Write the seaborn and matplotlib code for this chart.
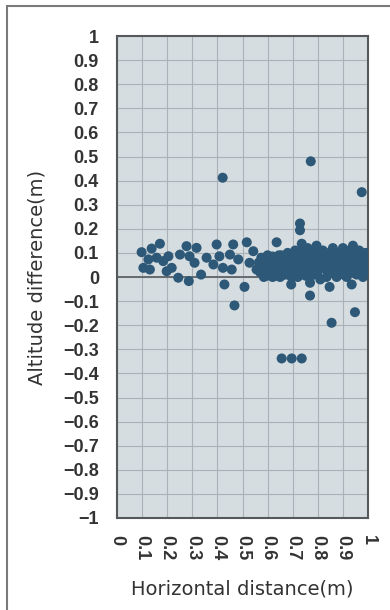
import numpy as np
import pandas as pd
import matplotlib
matplotlib.use("Agg")
import matplotlib.pyplot as plt
import matplotlib.ticker as mticker
from matplotlib.lines import Line2D
import seaborn as sns

# sparse points (x < 0.56) and outliers
sparse_x = [0.098, 0.138, 0.171, 0.105, 0.131, 0.125, 0.158, 0.184, 0.205, 0.198,
            0.218, 0.244, 0.251, 0.277, 0.289, 0.286, 0.317, 0.309, 0.335, 0.357,
            0.384, 0.397, 0.408, 0.422, 0.428, 0.450, 0.463, 0.468, 0.483, 0.457,
            0.517, 0.508, 0.543, 0.528, 0.556, 0.421, 0.772, 0.975, 0.636, 0.729,
            0.729, 0.736, 0.769, 0.855, 0.948, 0.656, 0.696, 0.736, 0.694, 0.769,
            0.847, 0.935]
sparse_y = [0.103, 0.118, 0.138, 0.038, 0.031, 0.073, 0.080, 0.066, 0.086, 0.024,
            0.038, -0.003, 0.093, 0.128, 0.086, -0.017, 0.121, 0.059, 0.010, 0.080,
            0.052, 0.135, 0.086, 0.038, -0.031, 0.093, 0.135, -0.118, 0.073, 0.031,
            0.144, -0.041, 0.107, 0.059, 0.031, 0.412, 0.480, 0.352, 0.144, 0.222,
            0.194, 0.138, -0.077, -0.190, -0.146, -0.338, -0.338, -0.338, -0.031, -0.024,
            -0.041, -0.031]

# dense cluster (x 0.56 - 1.0)
dense_x = [0.565, 0.570, 0.575, 0.580, 0.585, 0.590, 0.595, 0.600, 0.600, 0.605,
           0.610, 0.615, 0.620, 0.620, 0.625, 0.630, 0.635, 0.640, 0.645, 0.650,
           0.650, 0.655, 0.660, 0.665, 0.670, 0.675, 0.680, 0.685, 0.690, 0.695,
           0.700, 0.705, 0.710, 0.715, 0.720, 0.725, 0.730, 0.735, 0.740, 0.745,
           0.750, 0.755, 0.760, 0.765, 0.770, 0.775, 0.780, 0.785, 0.790, 0.795,
           0.800, 0.805, 0.810, 0.815, 0.820, 0.825, 0.830, 0.835, 0.840, 0.845,
           0.850, 0.855, 0.860, 0.865, 0.870, 0.875, 0.880, 0.885, 0.890, 0.895,
           0.900, 0.905, 0.910, 0.915, 0.920, 0.925, 0.930, 0.935, 0.940, 0.945,
           0.950, 0.955, 0.960, 0.965, 0.970, 0.975, 0.980, 0.985, 0.990, 0.995,
           1.000, 1.000, 0.990, 0.980, 0.970,
           0.572, 0.588, 0.603, 0.617, 0.633, 0.648, 0.662, 0.678, 0.692, 0.708,
           0.722, 0.738, 0.752, 0.768, 0.782, 0.798, 0.812, 0.828, 0.842, 0.858,
           0.872, 0.888, 0.902, 0.918, 0.932, 0.948, 0.962, 0.978, 0.992, 0.580,
           0.610, 0.640, 0.670, 0.700, 0.730, 0.760, 0.790, 0.820, 0.850, 0.880,
           0.910, 0.940, 0.970, 1.000, 0.595, 0.655, 0.715, 0.745, 0.805, 0.865,
           0.925, 0.985]
dense_y = [0.060, 0.020, 0.080, 0.040, 0.000, 0.070, 0.030, 0.090, 0.050, 0.010,
           0.070, 0.030, 0.085, 0.000, 0.050, 0.020, 0.070, 0.040, 0.090, 0.000,
           0.060, 0.025, 0.080, 0.045, 0.010, 0.070, 0.100, 0.030, 0.055, 0.000,
           0.080, 0.020, 0.110, 0.050, 0.000, 0.080, 0.030, 0.100, 0.060, 0.015,
           0.090, 0.040, 0.120, 0.070, 0.000, 0.050, 0.100, 0.020, 0.075, 0.130,
           0.040, 0.100, -0.010, 0.060, 0.110, 0.035, 0.080, 0.000, 0.050, 0.100,
           0.020, 0.070, 0.120, 0.040, 0.090, 0.000, 0.060, 0.100, 0.025, 0.070,
           0.120, 0.040, 0.085, 0.000, 0.055, 0.110, 0.020, 0.075, 0.130, 0.040,
           0.095, 0.010, 0.060, 0.110, 0.030, 0.080, 0.000, 0.050, 0.100, 0.020,
           0.070, 0.040, 0.060, 0.090, 0.055,
           0.045, 0.015, 0.065, 0.050, 0.005, 0.075, 0.010, 0.040, 0.085, 0.060,
           0.030, 0.070, 0.005, 0.090, 0.060, 0.010, 0.085, 0.060, 0.025, 0.095,
           0.050, 0.045, 0.010, 0.090, 0.050, 0.070, 0.085, 0.040, 0.075, 0.065,
           0.045, 0.065, 0.040, 0.030, 0.060, 0.030, 0.045, 0.080, 0.045, 0.085,
           0.060, 0.095, 0.080, 0.100, 0.005, 0.090, 0.070, 0.080, 0.070, 0.060,
           0.035, 0.085]

df = pd.DataFrame({"x": sparse_x + dense_x, "y": sparse_y + dense_y})

sns.set_style("white")
plt.rcParams["font.family"] = ["Liberation Sans", "DejaVu Sans"]


def tick_fmt(v, pos):
    v = round(v, 1)
    if abs(v) < 1e-9:
        return "0"
    s = "%g" % abs(v)
    return ("\u2212" + s) if v < 0 else s


fig = plt.figure(figsize=(3.9, 6.1), dpi=100)
ax = fig.add_axes([117 / 390, 1 - 518 / 610, 251 / 390, 482 / 610])
ax.set_facecolor("#d6dde1")

sns.scatterplot(data=df, x="x", y="y", ax=ax, s=52, color="#2d5877",
                edgecolor="none", zorder=3)

ax.set_xlim(0, 1)
ax.set_ylim(-1, 1)
ax.set_xticks(np.arange(0, 1.01, 0.1))
ax.set_yticks(np.arange(-1, 1.01, 0.1))
ax.xaxis.set_major_formatter(mticker.FuncFormatter(tick_fmt))
ax.yaxis.set_major_formatter(mticker.FuncFormatter(tick_fmt))

ax.grid(True, color="#abb2b7", linewidth=0.8, zorder=0)
ax.axhline(0, color="#5f6468", linewidth=1.3, zorder=2)

for sp in ax.spines.values():
    sp.set_color("#55595c")
    sp.set_linewidth(1.5)

ax.tick_params(axis="y", direction="in", length=6, width=1, color="#55595c",
               pad=13, labelsize=13)
ax.tick_params(axis="x", direction="in", length=0, pad=12, labelsize=13,
               labelrotation=-90)
for lab in ax.get_xticklabels() + ax.get_yticklabels():
    lab.set_fontweight("bold")
    lab.set_color("#333333")

ax.set_xlabel("Horizontal distance(m)", fontsize=14, color="#333333", labelpad=14,
              family="DejaVu Sans")
ax.set_ylabel("Altitude difference(m)", fontsize=14, color="#333333", labelpad=12,
              family="DejaVu Sans")

# outer frame of the figure
fig.add_artist(Line2D([7 / 390, 7 / 390], [0, 1 - 6 / 610], transform=fig.transFigure,
                      color="#7a7a7a", linewidth=1.5))
fig.add_artist(Line2D([7 / 390, 1], [1 - 6 / 610, 1 - 6 / 610], transform=fig.transFigure,
                      color="#7a7a7a", linewidth=1.5))

fig.savefig("out.png", dpi=100, facecolor="white")
